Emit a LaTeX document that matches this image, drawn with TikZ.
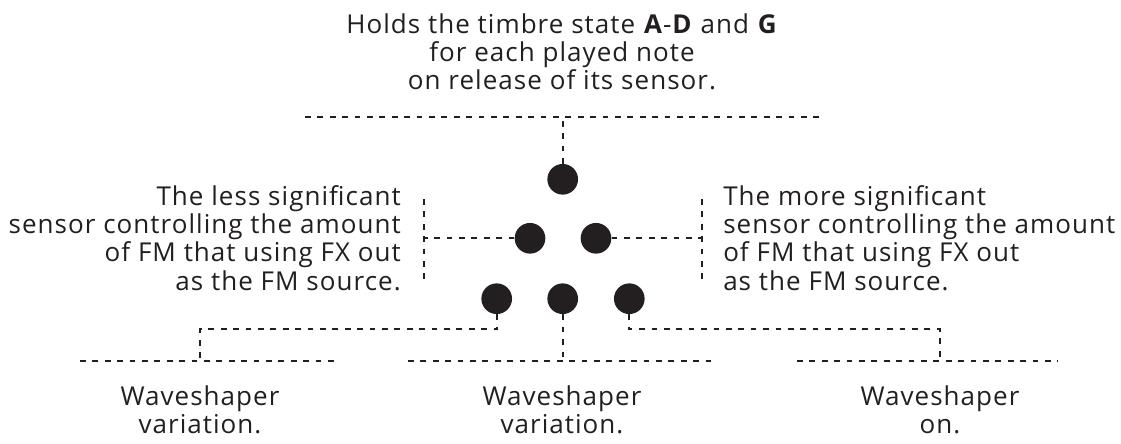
\documentclass[tikz,border=0pt]{standalone}
\usepackage{fontspec}
\setmainfont{Open Sans}[LetterSpace=4]
\definecolor{ink}{HTML}{231F20}

\begin{document}
\begin{tikzpicture}[x=0.75pt,y=-0.75pt,font=\fontsize{19.5}{21.3}\selectfont,
 dot/.style={circle,fill=ink,inner sep=0pt,minimum size=23pt},
 note/.style={inner sep=0pt,text=ink},
 guide/.style={ink,line width=1.3pt,dash pattern=on 4.3pt off 5pt}]
\path[use as bounding box] (0,0) rectangle (1121,443);
% sensors
\node[dot] (hold) at (562.7,179.3) {};
\node[dot] (lessfm) at (530,238.3) {};\node[dot] (morefm) at (596,238.3) {};
\node[dot] (wavel) at (496.7,298.7) {};\node[dot] (wavem) at (562.7,298.7) {};\node[dot] (waver) at (629.3,298.7) {};
% labels
\node[note,anchor=north,align=center] (holdtxt) at (562,13) {Holds the timbre state \textbf{A}-\textbf{D} and \textbf{G}\\for each played note\\on release of its sensor.};
\node[note,anchor=north east,align=right] (lesstxt) at (401,185) {The less significant\\sensor controlling the amount\\of FM that using FX out\\as the FM source.};
\node[note,anchor=north west,align=left] (moretxt) at (723,185) {The more significant\\sensor controlling the amount\\of FM that using FX out\\as the FM source.};
\node[note,anchor=north,align=center] (wltxt) at (200,385) {Waveshaper\\variation.};
\node[note,anchor=north,align=center] (wmtxt) at (562,385) {Waveshaper\\variation.};
\node[note,anchor=north,align=center] (wrtxt) at (940,385) {Waveshaper\\on.};
% leaders
\coordinate (topl) at (305,116.7);\coordinate (topr) at (820,116.7);
\draw[guide] (topl)--(topr);
\draw[guide] (hold.north)--(hold.north |- topl);
\coordinate (lbt) at (424,199);\coordinate (lbb) at (424,280);
\coordinate (rbt) at (702,199);\coordinate (rbb) at (702,280);
\draw[guide] (lbt)--(lbb);\draw[guide] (lessfm.west)--(lessfm.west -| lbt);
\draw[guide] (rbt)--(rbb);\draw[guide] (morefm.east)--(morefm.east -| rbt);
\coordinate (bll) at (80,361);\coordinate (blr) at (340,361);
\coordinate (bml) at (408,361);\coordinate (bmr) at (715,361);
\coordinate (brl) at (797,361);\coordinate (brr) at (1058,361);
\draw[guide] (bll)--(blr);\draw[guide] (bml)--(bmr);\draw[guide] (brl)--(brr);
\coordinate (kl) at (200,329.3);\coordinate (kr) at (940,329.3);
\draw[guide] (wavel.south) |- (kl) -- (kl |- bll);
\draw[guide] (wavem.south) -- (wavem.south |- bml);
\draw[guide] (waver.south) |- (kr) -- (kr |- brl);
\end{tikzpicture}
\end{document}
